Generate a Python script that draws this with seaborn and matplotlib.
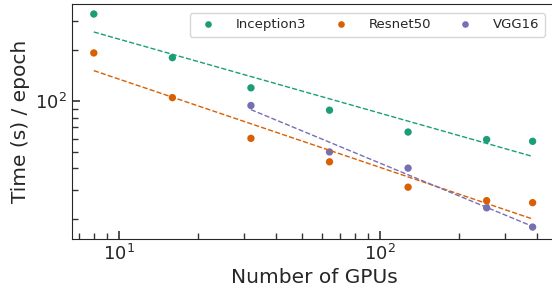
import numpy as np
import pandas as pd
import matplotlib
matplotlib.use("Agg")
import matplotlib.pyplot as plt
from matplotlib.ticker import LogLocator, NullFormatter
import seaborn as sns

# data
gpus = [8, 16, 32, 64, 128, 256, 384]
inception3 = [328, 181, 120, 88.5, 65.7, 59.3, 57.9]
resnet50 = [193, 105, 60.3, 43.8, 31.0, 25.8, 25.1]
vgg16_gpus = [32, 64, 128, 256, 384]
vgg16 = [94.3, 50.1, 40.2, 23.4, 18.0]
models = ["Inception3", "Resnet50", "VGG16"]

df = pd.concat([
    pd.DataFrame({"gpus": gpus, "time": inception3, "model": "Inception3"}),
    pd.DataFrame({"gpus": gpus, "time": resnet50, "model": "Resnet50"}),
    pd.DataFrame({"gpus": vgg16_gpus, "time": vgg16, "model": "VGG16"}),
], ignore_index=True)

sns.set_style("ticks")
plt.rcParams["xtick.direction"] = "in"
plt.rcParams["ytick.direction"] = "in"
colors = sns.color_palette("Dark2", 3)

fig = plt.figure(figsize=(5.52, 2.87), dpi=100)
ax = fig.add_axes([72/552, 48/287, 484/552, 235/287])

sns.scatterplot(data=df, x="gpus", y="time", hue="model", hue_order=models,
                palette=colors, s=28, linewidth=0, ax=ax)

# log-log least squares fit per model
for m, c in zip(models, colors):
    d = df[df["model"] == m]
    lx = np.log10(d["gpus"].values)
    ly = np.log10(d["time"].values)
    k, b = np.polyfit(lx, ly, 1)
    ax.plot(d["gpus"], 10 ** (k * lx + b), "--", color=c, lw=1.0)

ax.set_xscale("log")
ax.set_yscale("log")
ax.set_xlim(6.6, 472)
ax.set_ylim(15.3, 376)
for axis in (ax.xaxis, ax.yaxis):
    axis.set_minor_locator(LogLocator(base=10, subs=np.arange(2, 10), numticks=20))
    axis.set_minor_formatter(NullFormatter())
ax.set_xlabel("Number of GPUs", fontsize=14.5, labelpad=3)
ax.set_ylabel("Time (s) / epoch", fontsize=14.5, labelpad=4)
ax.tick_params(axis="both", which="major", direction="in", labelsize=13,
               length=6, width=1.2, color=".2", labelcolor=".15")
ax.tick_params(axis="both", which="minor", direction="in", length=4,
               width=1.0, color=".2")
ax.tick_params(top=False, right=False, which="both")

ax.legend(loc="upper right", ncol=3, fontsize=9.5, handletextpad=1.1,
          columnspacing=1.6, markerscale=0.9, frameon=True,
          bbox_to_anchor=(0.99, 0.99))

fig.savefig("out.png", dpi=100)
